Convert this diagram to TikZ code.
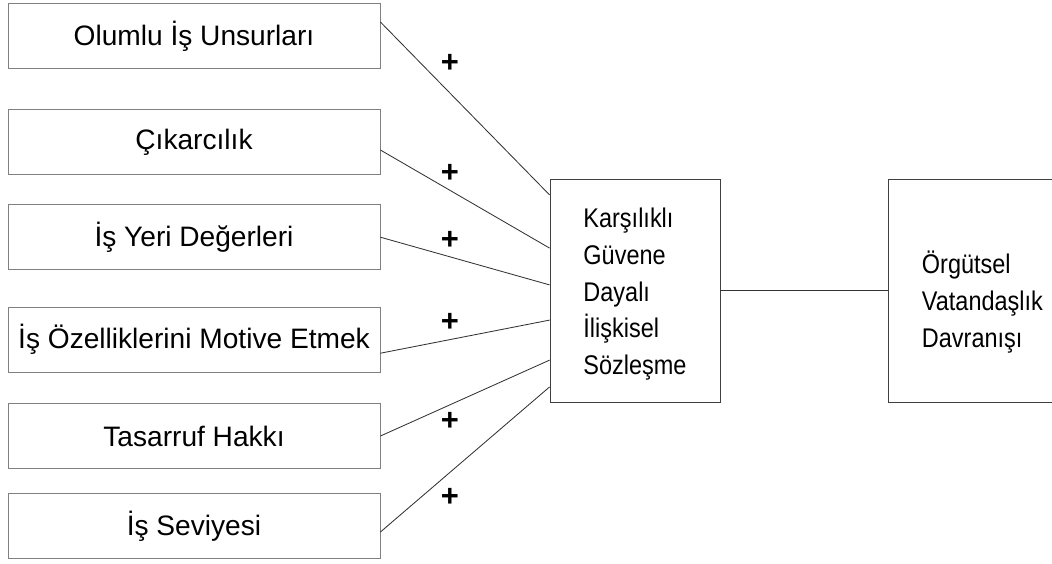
\documentclass[tikz,border=0pt]{standalone}
\usepackage{fontspec}
\setmainfont{Liberation Sans}
\newfontfamily\narrowsans[FakeStretch=0.87]{Liberation Sans}
\usepackage{tikz}
\usetikzlibrary{positioning}

\begin{document}
\begin{tikzpicture}[
    factor/.style={rectangle, draw=black!50, line width=0.6pt, minimum width=9.3cm, minimum height=1.625cm,
                   text centered, font=\fontsize{20}{24}\selectfont},
    bigbox/.style={rectangle, draw=black!75, line width=0.6pt, minimum height=5.575cm, align=left,
                   font=\narrowsans\fontsize{19.2}{26.3}\selectfont},
    link/.style={draw=black!80, line width=0.6pt},
    sign/.style={font=\bfseries\fontsize{22}{24}\selectfont}
]
\useasboundingbox (0,0) rectangle (26.3,-14.075);

\node[factor] (olumlu)   at (4.85,-0.9)   {Olumlu İş Unsurları};
\node[factor] (cikar)    at (4.85,-3.56)  {Çıkarcılık};
\node[factor] (degerler) at (4.85,-5.93)  {İş Yeri Değerleri};
\node[factor] (motive)   at (4.85,-8.49)  {İş Özelliklerini Motive Etmek};
\node[factor] (tasarruf) at (4.85,-10.9)  {Tasarruf Hakkı};
\node[factor] (seviye)   at (4.85,-13.15) {İş Seviyesi};

% the rules only push the text a little lower in its box
\node[bigbox, minimum width=4.25cm] (guven) at (15.875,-7.2625)
    {\rule{0pt}{19pt}Karşılıklı\\Güvene\\Dayalı\\İlişkisel\\Sözleşme};
\node[bigbox, minimum width=4.7cm, anchor=west] (ovd) at (22.2,-7.2625)
    {\rule{0pt}{32pt}Örgütsel\\Vatandaşlık\\Davranışı};

\draw[link] ([yshift=0.35cm]olumlu.east)   -- ([yshift=2.39cm]guven.west)  node[pos=0.41, yshift=0.74cm, sign] {+};
\draw[link] ([yshift=-0.19cm]cikar.east)   -- ([yshift=1.06cm]guven.west)  node[pos=0.41, yshift=0.43cm, sign] {+};
\draw[link] (degerler.east)                -- ([yshift=0.14cm]guven.west)  node[pos=0.41, yshift=0.41cm, sign] {+};
\draw[link] ([yshift=-0.34cm]motive.east)  -- ([yshift=-0.74cm]guven.west) node[pos=0.41, yshift=0.42cm, sign] {+};
\draw[link] (tasarruf.east)                -- ([yshift=-1.74cm]guven.west) node[pos=0.41, yshift=-0.41cm, sign] {+};
\draw[link] ([yshift=-0.15cm]seviye.east)  -- ([yshift=-2.41cm]guven.west) node[pos=0.41, yshift=-0.63cm, sign] {+};

\draw[link] (guven) -- (ovd);
\end{tikzpicture}
\end{document}
